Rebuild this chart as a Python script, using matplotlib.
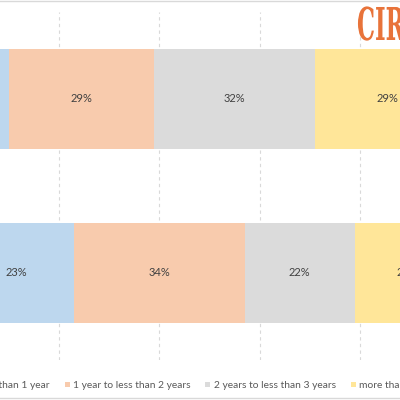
import matplotlib
matplotlib.use('Agg')
import matplotlib.pyplot as plt
from matplotlib.patheffects import AbstractPathEffect
from matplotlib.transforms import Affine2D
from matplotlib.lines import Line2D
from matplotlib.patches import Patch

# ---- data ----
categories = ["Group A", "Group B"]
series = ["less than 1 year", "1 year to less than 2 years",
          "2 years to less than 3 years", "more than 3 years"]
less_than_1 = [10, 23]
one_to_two = [29, 34]
two_to_three = [32, 22]
more_than_3 = [29, 21]
xticks = [0, 20, 40, 60, 80, 100]

colors = ["#BDD7EE", "#F8CBAD", "#DBDBDB", "#FFE699"]
FONT = ["Lato", "DejaVu Sans"]


class HSqueeze(AbstractPathEffect):
    def __init__(self, sx):
        super().__init__()
        self.sx = sx

    def draw_path(self, renderer, gc, tpath, affine, rgbFace=None):
        renderer.draw_path(gc, tpath, Affine2D().scale(self.sx, 1) + affine, rgbFace)


fig = plt.figure(figsize=(4, 4), dpi=100)
ax = fig.add_axes([-0.1025, 0.10, 1.2525, 0.87])

values = [less_than_1, one_to_two, two_to_three, more_than_3]
ypos = list(range(len(categories)))
lefts = [0] * len(categories)
for vals, col, name in zip(values, colors, series):
    ax.barh(ypos, vals, left=lefts, height=0.575, color=col, label=name, zorder=2)
    for y, l, v in zip(ypos, lefts, vals):
        ax.text(l + v / 2, y, f"{v}%", ha="center", va="center",
                fontsize=8, color="#404040", family=FONT, zorder=3)
    lefts = [a + b for a, b in zip(lefts, vals)]

ax.set_xlim(0, 100)
ax.set_ylim(1.5, -0.5)
ax.set_xticks(xticks)
ax.set_yticks(ypos)
ax.set_yticklabels(categories)
ax.tick_params(length=0, labelbottom=False, labelleft=False)
ax.grid(axis="x", color="#D9D9D9", linestyle=(0, (3, 3)), linewidth=0.8, zorder=0)
for s in ax.spines.values():
    s.set_visible(False)

handles = [Patch(facecolor=c, edgecolor="none") for c in colors]
fig.legend(handles, series, loc="center", bbox_to_anchor=(0.514, 0.036), ncol=4,
           frameon=False, handlelength=0.5, handleheight=0.5, handletextpad=0.3,
           columnspacing=1.45, prop={"family": FONT, "size": 7.4},
           labelcolor="#595959")

# chart border lines
fig.add_artist(Line2D([0, 1], [0.997, 0.997], color="#D9D9D9", lw=1.0,
                      transform=fig.transFigure))
fig.add_artist(Line2D([0, 1], [0.006, 0.006], color="#D9D9D9", lw=1.0,
                      transform=fig.transFigure))

# watermark logo
fig.text(357 / 400, 1 - 40 / 400, "CIR", fontsize=32.6, weight="bold",
         family="DejaVu Serif", color="#E8733A", ha="left", va="baseline",
         path_effects=[HSqueeze(0.5)])

fig.savefig("out.png", dpi=100)
